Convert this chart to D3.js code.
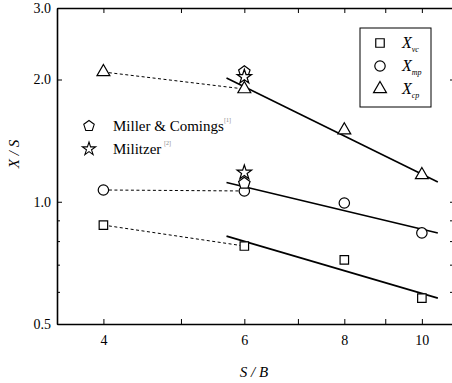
<!DOCTYPE html>
<html>
<head>
<meta charset="utf-8">
<script src="https://cdn.jsdelivr.net/npm/d3@7"></script>
<style>
	body { margin: 0; background: #fff; }
	svg { display: block; }
	svg text { font-family: "Liberation Serif", "DejaVu Serif", serif; fill: #000; }
	.axis path, .axis line { stroke: #000; }
	.axis text { font-size: 14px; }
</style>
</head>
<body>
<script>
// S/B values on the x axis
const sbValues = [4, 6, 8, 10]

// measured distances (X/S) for each series
const xVc = [0.876, 0.778, 0.719, 0.579]
const xMp = [1.069, 1.063, 0.993, 0.838]
const xCp = [2.087, 1.895, 1.50, 1.164]

// literature points, all at S/B = 6
const millerSB = [6, 6]
const millerVals = [2.09, 1.11]
const militzerSB = [6, 6]
const militzerVals = [2.03, 1.18]

// solid fit lines, start and end
const fitSB = [5.7, 10.47]
const fitVc = [0.823, 0.579]
const fitMp = [1.115, 0.838]
const fitCp = [2.017, 1.118]

// tick values
const xTicks = [4, 5, 6, 7, 8, 9, 10]
const xTickLabels = [4, 6, 8, 10]
const yMajor = [0.5, 1, 2, 3]
const yMinor = [0.6, 0.7, 0.8, 0.9]

graphCreation()

function graphCreation() {

	var width = 452,
		height = 383;

	var svg = d3.select("body").append("svg")
		.attr("width", width)
		.attr("height", height);

	// log scales on both axes
	var x = d3.scaleLog()
		.domain([3.5, 11])
		.range([57, 455]);

	var y = d3.scaleLog()
		.domain([0.5, 3])
		.range([324, 8]);

	// frame: bottom + top
	svg.append("g")
		.attr("class", "axis")
		.attr("transform", "translate(0," + y(0.5) + ")")
		.call(d3.axisBottom(x)
			.tickValues(xTicks)
			.tickSizeInner(-5)
			.tickSizeOuter(0)
			.tickPadding(11)
			.tickFormat(d => xTickLabels.includes(d) ? d : ""));

	svg.append("g")
		.attr("class", "axis")
		.attr("transform", "translate(0," + y(3) + ")")
		.call(d3.axisTop(x)
			.tickValues(xTicks)
			.tickSizeInner(-5)
			.tickSizeOuter(0)
			.tickFormat(""));

	// left axis, majors with labels then minors
	svg.append("g")
		.attr("class", "axis")
		.attr("transform", "translate(" + x(3.5) + ",0)")
		.call(d3.axisLeft(y)
			.tickValues(yMajor)
			.tickSizeInner(-5)
			.tickSizeOuter(0)
			.tickPadding(6)
			.tickFormat(d3.format(".1f")));

	svg.append("g")
		.attr("class", "axis")
		.attr("transform", "translate(" + x(3.5) + ",0)")
		.call(d3.axisLeft(y)
			.tickValues(yMinor)
			.tickSizeInner(-3)
			.tickSizeOuter(0)
			.tickFormat(""))
		.select(".domain").remove();

	// right axis
	svg.append("g")
		.attr("class", "axis")
		.attr("transform", "translate(" + x(11) + ",0)")
		.call(d3.axisRight(y)
			.tickValues(yMajor.concat(yMinor))
			.tickSizeInner(-5)
			.tickSizeOuter(0)
			.tickFormat(""));

	svg.selectAll(".axis .domain").attr("stroke-width", 1.6);
	svg.selectAll(".axis").attr("font-family", null);

	// axis titles
	svg.append("text")
		.attr("x", 254)
		.attr("y", 377)
		.attr("text-anchor", "middle")
		.attr("font-style", "italic")
		.attr("font-size", 15)
		.text("S / B");

	svg.append("text")
		.attr("transform", "translate(19,154) rotate(-90)")
		.attr("text-anchor", "middle")
		.attr("font-style", "italic")
		.attr("font-size", 15)
		.text("X / S");

	// dashed connections between S/B = 4 and S/B = 6
	var series = [xVc, xMp, xCp];
	series.forEach(vals => {
		svg.append("line")
			.attr("x1", x(sbValues[0])).attr("y1", y(vals[0]))
			.attr("x2", x(sbValues[1])).attr("y2", y(vals[1]))
			.attr("stroke", "#000")
			.attr("stroke-width", 1)
			.attr("stroke-dasharray", "3,2.5");
	});

	// solid fit lines
	[fitVc, fitMp, fitCp].forEach(vals => {
		svg.append("line")
			.attr("x1", x(fitSB[0])).attr("y1", y(vals[0]))
			.attr("x2", x(fitSB[1])).attr("y2", y(vals[1]))
			.attr("stroke", "#000")
			.attr("stroke-width", 1.6);
	});

	// marker shapes
	var symSquare = d3.symbol().type(d3.symbolSquare).size(72);
	var symCircle = d3.symbol().type(d3.symbolCircle).size(85);
	var symTriangle = d3.symbol().type(d3.symbolTriangle).size(72);
	var symStar = d3.symbol().type(d3.symbolStar).size(65);

	// pentagon path, radius r
	function pentagon(r) {
		var pts = d3.range(5).map(i => {
			var a = -Math.PI / 2 + i * 2 * Math.PI / 5;
			return [r * Math.cos(a), r * Math.sin(a)];
		});
		return "M" + pts.join("L") + "Z";
	}

	function drawMarkers(xs, ys, path) {
		svg.append("g")
			.selectAll("path")
			.data(ys)
			.enter().append("path")
			.attr("transform", (d, i) => "translate(" + x(xs[i]) + "," + y(d) + ")")
			.attr("d", path)
			.attr("fill", "#fff")
			.attr("stroke", "#000")
			.attr("stroke-width", 1.2);
	}

	drawMarkers(sbValues, xVc, symSquare);
	drawMarkers(sbValues, xMp, symCircle);
	drawMarkers(sbValues, xCp, symTriangle);
	drawMarkers(millerSB, millerVals, pentagon(6));
	drawMarkers(militzerSB, militzerVals, symStar);

	// literature labels
	var lit = svg.append("g");
	lit.append("path")
		.attr("transform", "translate(89,126)")
		.attr("d", pentagon(5.5))
		.attr("fill", "none").attr("stroke", "#000").attr("stroke-width", 1.1);
	lit.append("text")
		.attr("x", 113).attr("y", 131)
		.attr("font-size", 15)
		.text("Miller & Comings");
	lit.append("text")
		.attr("x", 224).attr("y", 122)
		.attr("font-size", 6).style("fill", "#888")
		.text("[1]");
	lit.append("path")
		.attr("transform", "translate(89,149)")
		.attr("d", d3.symbol().type(d3.symbolStar).size(55))
		.attr("fill", "none").attr("stroke", "#000").attr("stroke-width", 1.1);
	lit.append("text")
		.attr("x", 113).attr("y", 154)
		.attr("font-size", 15)
		.text("Militzer");
	lit.append("text")
		.attr("x", 164).attr("y", 145)
		.attr("font-size", 6).style("fill", "#888")
		.text("[2]");

	// legend box
	var legend = svg.append("g");
	legend.append("rect")
		.attr("x", 360).attr("y", 28)
		.attr("width", 71).attr("height", 79)
		.attr("fill", "#fff")
		.attr("stroke", "#000")
		.attr("stroke-width", 1);

	var legendItems = [
		{ sym: symSquare, sub: "vc" },
		{ sym: symCircle, sub: "mp" },
		{ sym: symTriangle, sub: "cp" }
	];

	legendItems.forEach((item, i) => {
		var cy = 43 + i * 23;
		legend.append("path")
			.attr("transform", "translate(380," + cy + ")")
			.attr("d", item.sym)
			.attr("fill", "#fff")
			.attr("stroke", "#000")
			.attr("stroke-width", 1.2);
		var t = legend.append("text")
			.attr("x", 402).attr("y", cy + 5)
			.attr("font-size", 16)
			.attr("font-style", "italic");
		t.append("tspan").text("X");
		t.append("tspan")
			.attr("dy", 4)
			.attr("font-size", 8)
			.text(item.sub);
	});
}
</script>
</body>
</html>
